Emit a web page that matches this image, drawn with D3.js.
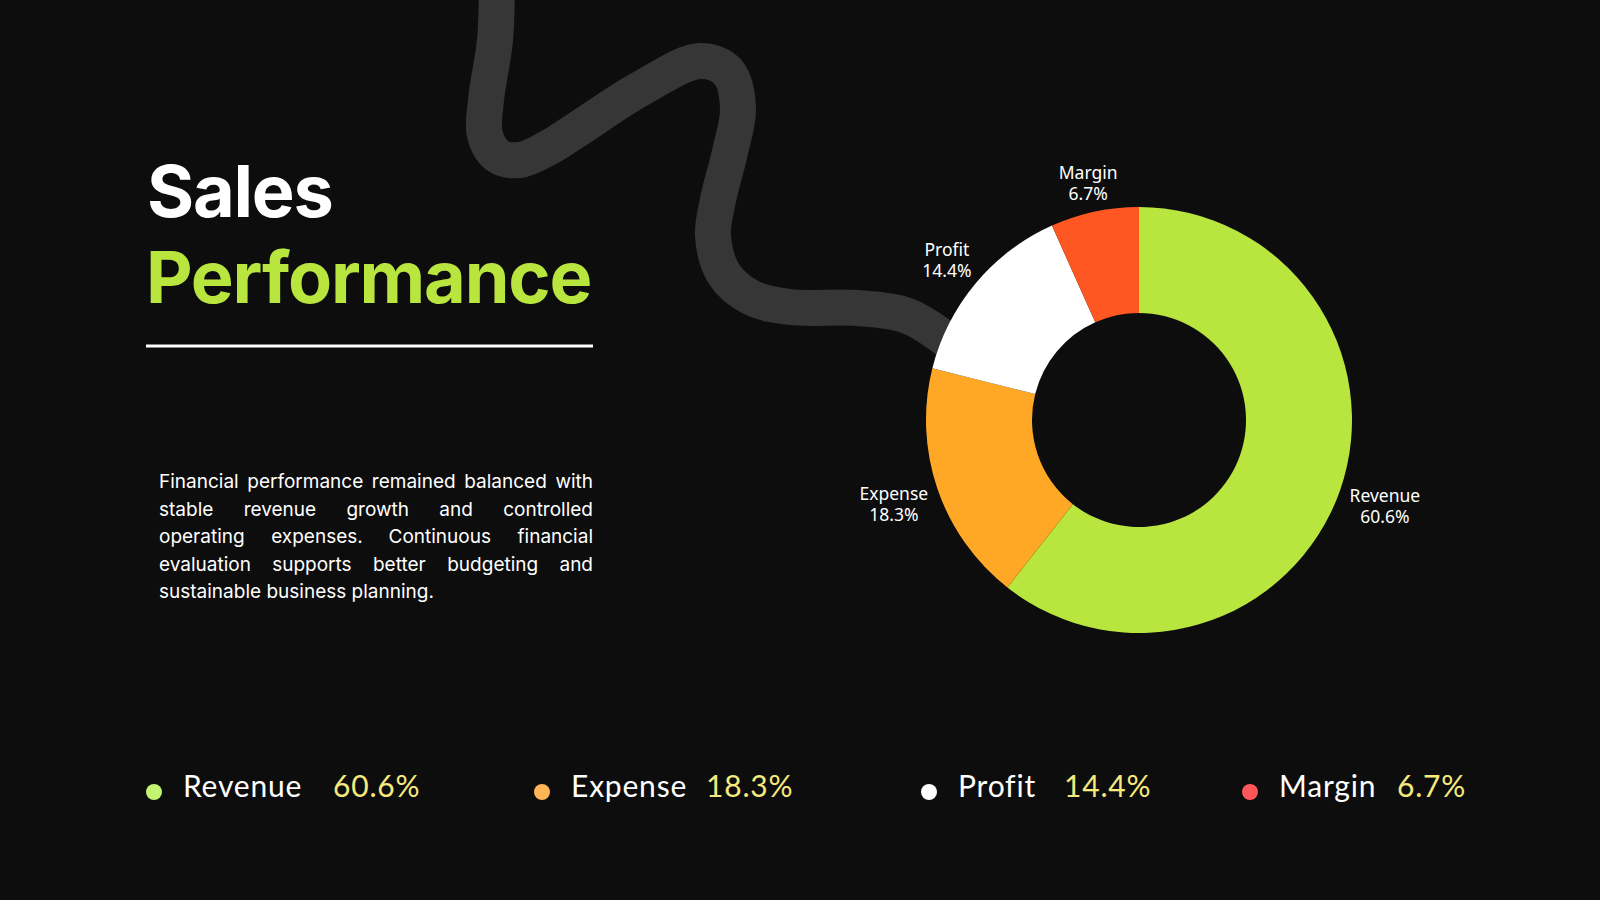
<!DOCTYPE html>
<html>
<head>
<meta charset="utf-8">
<script src="https://cdn.jsdelivr.net/npm/d3@7"></script>
<style>
  html, body { margin: 0; padding: 0; background: #0d0d0d; }
  svg { display: block; }
</style>
</head>
<body>
<script>
// chart data
const categories = ["Revenue", "Expense", "Profit", "Margin"];
const shares = [60.6, 18.3, 14.4, 6.7];
const sliceColors = ["#b9e53f", "#ffa826", "#ffffff", "#ff5722"];
const legendDotColors = ["#c3f46f", "#ffb556", "#ffffff", "#ff5757"];

const titleLines = ["Sales", "Performance"];
const bodyLines = [
    "Financial performance remained balanced with",
    "stable revenue growth and controlled",
    "operating expenses. Continuous financial",
    "evaluation supports better budgeting and",
    "sustainable business planning."
];

// background squiggle (decoration only)
const swirlPoints = [
    [497, -30], [495, 40], [486, 100], [485, 135], [498, 156], [520, 160],
    [548, 148], [575, 131], [640, 89], [700, 61], [728, 72], [738, 108],
    [730, 152], [718, 200], [713, 236], [724, 274], [752, 298], [790, 307],
    [857, 308], [905, 315], [940, 335], [995, 385]
];

const W = 1600, H = 900;
const svg = d3.select("body").append("svg")
    .attr("width", W)
    .attr("height", H);

svg.append("rect")
    .attr("width", W)
    .attr("height", H)
    .attr("fill", "#0d0d0d");

svg.append("path")
    .attr("d", d3.line().curve(d3.curveCatmullRom.alpha(0.5))(swirlPoints))
    .attr("fill", "none")
    .attr("stroke", "#363636")
    .attr("stroke-width", 36)
    .attr("stroke-linecap", "round");

// title
const titleFont = "Inter, 'Open Sans', sans-serif";
svg.append("text")
    .attr("x", 147)
    .attr("y", 217)
    .attr("fill", "#ffffff")
    .attr("font-family", titleFont)
    .attr("font-weight", 700)
    .attr("font-size", 72)
    .attr("letter-spacing", -1.2)
    .text(titleLines[0]);

svg.append("text")
    .attr("x", 146)
    .attr("y", 303)
    .attr("fill", "#b9e53f")
    .attr("font-family", titleFont)
    .attr("font-weight", 700)
    .attr("font-size", 72)
    .attr("letter-spacing", -1.2)
    .text(titleLines[1]);

svg.append("line")
    .attr("x1", 146).attr("x2", 593)
    .attr("y1", 346).attr("y2", 346)
    .attr("stroke", "#ffffff")
    .attr("stroke-width", 3);

// justified paragraph
const para = { x0: 159, x1: 593, y0: 488, lh: 27.6, size: 19 };
bodyLines.forEach((line, i) => {
    const words = line.split(" ");
    const t = svg.append("text")
        .attr("y", para.y0 + i * para.lh)
        .attr("fill", "#ffffff")
        .attr("font-family", titleFont)
        .attr("font-size", para.size);
    const spans = words.map(w => t.append("tspan").text(w));
    const widths = spans.map(s => s.node().getComputedTextLength());
    const total = d3.sum(widths);
    const last = i === bodyLines.length - 1;
    const space = last ? para.size * 0.28 : (para.x1 - para.x0 - total) / (words.length - 1);
    let x = para.x0;
    spans.forEach((s, j) => {
        s.attr("x", x);
        x += widths[j] + space;
    });
});

// donut
const cx = 1139, cy = 420, rOuter = 213, rInner = 107;
const labelPad = 8.5, labelHalfH = 16, labelLine = 21;
const pie = d3.pie().sort(null).value(d => d.value);
const arcs = pie(categories.map((c, i) => ({ name: c, value: shares[i], color: sliceColors[i] })));
const arc = d3.arc().innerRadius(rInner).outerRadius(rOuter);

const donut = svg.append("g").attr("transform", `translate(${cx},${cy})`);
donut.selectAll("path.slice")
    .data(arcs)
    .join("path")
    .attr("class", "slice")
    .attr("d", arc)
    .attr("fill", d => d.data.color);

const labels = donut.selectAll("text.slice-label")
    .data(arcs)
    .join("text")
    .attr("class", "slice-label")
    .attr("text-anchor", "middle")
    .attr("fill", "#ffffff")
    .attr("font-family", "'Noto Sans', 'Open Sans', sans-serif")
    .attr("font-size", 17.5);
labels.append("tspan")
    .attr("x", 0)
    .attr("y", -3.5)
    .text(d => d.data.name);
labels.append("tspan")
    .attr("x", 0)
    .attr("y", -3.5 + labelLine)
    .text(d => d3.format(".1f")(d.data.value) + "%");

// push each label block just outside the ring along its mid angle
labels.attr("transform", function(d) {
    const hw = this.getBBox().width / 2;
    const a = (d.startAngle + d.endAngle) / 2;
    const s = Math.sin(a), c = -Math.cos(a);
    const r = rOuter + labelPad + Math.abs(s) * hw + Math.abs(c) * labelHalfH;
    return `translate(${s * r},${c * r})`;
});

// legend
const legendX = [154, 542, 929, 1250];
const legendValueX = [333, 706, 1064, 1397];
const legendY = 797;
const legendFont = "Lato, sans-serif";
const legend = svg.append("g");
categories.forEach((c, i) => {
    legend.append("circle")
        .attr("cx", legendX[i])
        .attr("cy", legendY - 5)
        .attr("r", 8)
        .attr("fill", legendDotColors[i]);
    legend.append("text")
        .attr("x", legendX[i] + 29)
        .attr("y", legendY)
        .attr("fill", "#ffffff")
        .attr("font-family", legendFont)
        .attr("font-size", 30)
        .attr("letter-spacing", 0.8)
        .text(c);
    legend.append("text")
        .attr("x", legendValueX[i])
        .attr("y", legendY)
        .attr("fill", "#f6ea7c")
        .attr("font-family", legendFont)
        .attr("font-size", 30)
        .attr("letter-spacing", 0.8)
        .text(d3.format(".1f")(shares[i]) + "%");
});
</script>
</body>
</html>
